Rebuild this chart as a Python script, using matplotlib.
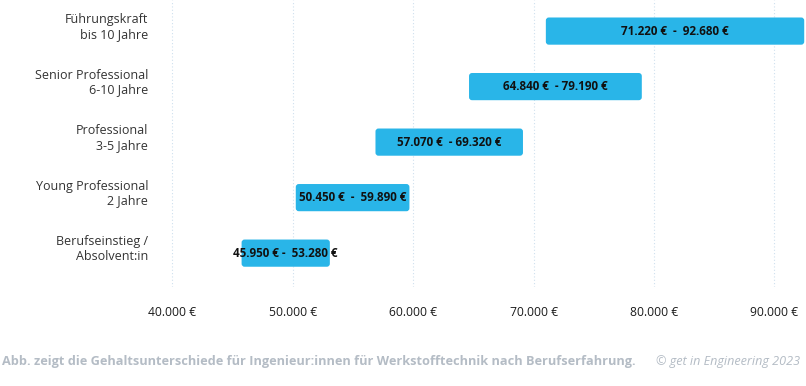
import matplotlib.pyplot as plt
import matplotlib.transforms as mtransforms
from matplotlib.patches import FancyBboxPatch

# Gehaltsspannen nach Berufserfahrung (unten -> oben)
categories = ["Berufseinstieg /\nAbsolvent:in", "Young Professional\n2 Jahre",
              "Professional\n3-5 Jahre", "Senior Professional\n6-10 Jahre",
              "Führungskraft\nbis 10 Jahre"]
low = [45950, 50450, 57070, 64840, 71220]
high = [53280, 59890, 69320, 79190, 92680]
bar_labels = ["45.950 € -  53.280 €", "50.450 €  -  59.890 €", "57.070 €  - 69.320 €",
              "64.840 €  - 79.190 €", "71.220 €  -  92.680 €"]
ticks = [40000, 50000, 60000, 70000, 80000, 90000]
tick_labels = ["40.000 €", "50.000 €", "60.000 €", "70.000 €", "80.000 €", "90.000 €"]

plt.rcParams['font.family'] = ['Open Sans', 'DejaVu Sans']

W, H = 806, 386
fig = plt.figure(figsize=(W / 100, H / 100), dpi=100)
ax = fig.add_axes([155 / W, 99 / H, (806 - 155) / W, 287 / H])

xmin, xmax = 38550, 92620
ax.set_xlim(xmin, xmax)
ax.set_ylim(-0.61, 4.56)

bar_color = "#29b5e8"
bar_h = 0.49
# rounded corners: ~3 px in both directions
px_x = (xmax - xmin) / (806 - 155)
px_y = 5.17 / 287
# bars sit a little left of the grid in the original
shift = mtransforms.ScaledTranslation(-2.5 / 100, 0, fig.dpi_scale_trans)
for i, (lo, hi) in enumerate(zip(low, high)):
    box = FancyBboxPatch((lo, i - bar_h / 2), hi - lo, bar_h,
                         boxstyle=f"round,pad=0,rounding_size={3 * px_x}",
                         mutation_aspect=px_y / px_x, transform=ax.transData + shift,
                         facecolor=bar_color, edgecolor="none", clip_on=False, zorder=3)
    ax.add_patch(box)
    ax.text((lo + hi) / 2, i, bar_labels[i], ha="center", va="center",
            fontsize=8.4, fontweight="bold", color="#111111", zorder=4,
            transform=ax.transData + shift)

ax.set_yticks(range(len(categories)))
ax.set_yticklabels(categories, fontsize=9, color="#333333", linespacing=1.15)
ax.tick_params(axis="y", length=0, pad=5)
up = mtransforms.ScaledTranslation(0, 6.5 / 100, fig.dpi_scale_trans)
for lab in ax.get_yticklabels():
    lab.set_transform(lab.get_transform() + up)

ax.set_xticks(ticks)
ax.set_xticklabels(tick_labels, fontsize=8.7, color="#1a1a1a")
ax.tick_params(axis="x", length=0, pad=14)

ax.grid(axis="x", color="#cfe0ee", linestyle=(0, (1, 2)), linewidth=0.8)
ax.set_axisbelow(True)
for s in ax.spines.values():
    s.set_visible(False)

fig.text(2 / W, 1 - 362 / H, "Abb. zeigt die Gehaltsunterschiede für Ingenieur:innen für Werkstofftechnik nach Berufserfahrung.",
         fontsize=9.2, fontweight="bold", color="#b4bcc5", va="center", ha="left")
fig.text(800 / W, 1 - 362 / H, "© get in Engineering 2023", fontsize=9.1, style="italic",
         color="#b4bcc5", va="center", ha="right")

fig.savefig("out.png", dpi=100)
